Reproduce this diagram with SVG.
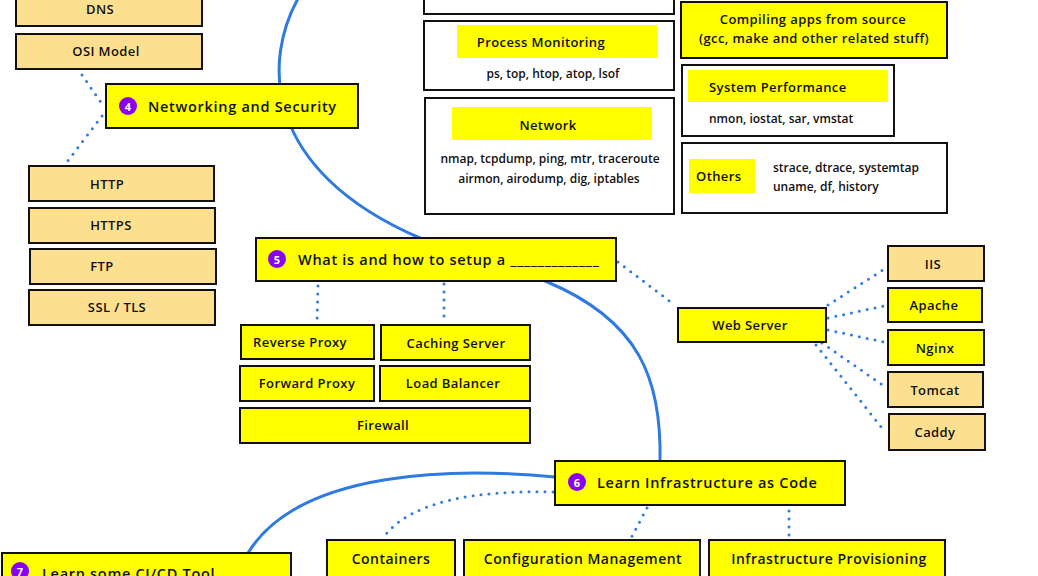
<svg xmlns="http://www.w3.org/2000/svg" width="1038" height="576" viewBox="0 0 1038 576">
<style>
.y{fill:#ffff00;stroke:#111;stroke-width:2}
.o{fill:#fde08f;stroke:#111;stroke-width:2}
.w{fill:#fff;stroke:#111;stroke-width:2}
.bar{fill:#ffff00;stroke:none}
.t{font-family:"Open Sans",sans-serif;font-weight:600;font-size:13px;fill:#111;letter-spacing:0.4px;dominant-baseline:central}
.h{font-size:14.5px;letter-spacing:0.7px}
.b{font-size:14px;letter-spacing:0.5px}
.s{font-family:"Open Sans",sans-serif;font-weight:600;font-size:12px;fill:#111;dominant-baseline:central}
.m{text-anchor:middle}
.main{fill:none;stroke:#2f7ae0;stroke-width:3;stroke-linecap:round}
.dot{fill:none;stroke:#2f7ae0;stroke-width:3;stroke-linecap:round;stroke-dasharray:0 8}
.c{fill:#8a00f5}
.n{font-family:"Open Sans",sans-serif;font-weight:700;font-size:11px;fill:#fff;text-anchor:middle;dominant-baseline:central}
</style>
<rect width="1038" height="576" fill="#fff"/>
<g id="connectors">
<path class="main" d="M300,-5 C262,60 262,170 420,238"/>
<path class="main" d="M545,281 C640,320 662,380 660,462"/>
<path class="main" d="M555,477 C460,468 300,468 248,553"/>
<path class="dot" d="M82,75 L102,104"/>
<path class="dot" d="M102,116 L67,162"/>
<path class="dot" d="M318,286 L317,322"/>
<path class="dot" d="M444,284 L444,320"/>
<path class="dot" d="M618,262 L672,303"/>
<path class="dot" d="M828,305 L886,268"/>
<path class="dot" d="M828,318 L884,306"/>
<path class="dot" d="M828,330 L884,342"/>
<path class="dot" d="M822,343 L884,386"/>
<path class="dot" d="M816,345 L882,428"/>
<path class="dot" d="M553,492 C480,490 410,500 383,538"/>
<path class="dot" d="M647,508 L630,540"/>
<path class="dot" d="M789,511 L789,537"/>
</g>
<g id="dns"><rect class="o" x="16" y="-10" width="186" height="36"/><text class="t m" x="100" y="9">DNS</text></g>
<g id="osi"><rect class="o" x="16" y="34" width="186" height="35"/><text class="t m" x="106" y="51">OSI Model</text></g>
<g id="node4"><rect class="y" x="106" y="84" width="252" height="44"/><circle class="c" cx="128" cy="106" r="9"/><text class="n" x="128" y="106">4</text><text class="t h" x="148" y="106">Networking and Security</text></g>
<g id="http"><rect class="o" x="29" y="166" width="185" height="35"/><text class="t m" x="107" y="184">HTTP</text></g>
<g id="https"><rect class="o" x="29" y="208" width="186" height="35"/><text class="t m" x="111" y="225">HTTPS</text></g>
<g id="ftp"><rect class="o" x="30" y="249" width="186" height="35"/><text class="t m" x="102" y="266">FTP</text></g>
<g id="ssl"><rect class="o" x="29" y="290" width="186" height="35"/><text class="t m" x="117" y="307">SSL / TLS</text></g>
<g id="top-cut"><rect class="w" x="424" y="-10" width="250" height="24"/></g>
<g id="procmon"><rect class="w" x="424" y="21" width="250" height="69"/><rect class="bar" x="457" y="25" width="200" height="33"/><text class="t m" x="541" y="42">Process Monitoring</text><text class="s m" x="553" y="73">ps, top, htop, atop, lsof</text></g>
<g id="network"><rect class="w" x="425" y="98" width="249" height="116"/><rect class="bar" x="452" y="107" width="200" height="33"/><text class="t m" x="548" y="125">Network</text><text class="s m" x="550" y="158">nmap, tcpdump, ping, mtr, traceroute</text><text class="s m" x="549" y="178">airmon, airodump, dig, iptables</text></g>
<g id="compiling"><rect class="y" x="681" y="2" width="266" height="56"/><text class="t m" x="813" y="19">Compiling apps from source</text><text class="t m" x="814" y="38">(gcc, make and other related stuff)</text></g>
<g id="sysperf"><rect class="w" x="682" y="65" width="212" height="71"/><rect class="bar" x="688" y="70" width="200" height="32"/><text class="t" x="709" y="87">System Performance</text><text class="s" x="709" y="118">nmon, iostat, sar, vmstat</text></g>
<g id="others"><rect class="w" x="682" y="143" width="265" height="70"/><rect class="bar" x="689" y="159" width="66" height="34"/><text class="t" x="696" y="176">Others</text><text class="s" x="773" y="167">strace, dtrace, systemtap</text><text class="s" x="773" y="186">uname, df, history</text></g>
<g id="node5"><rect class="y" x="256" y="238" width="360" height="43"/><circle class="c" cx="277" cy="259" r="9"/><text class="n" x="277" y="259">5</text><text class="t h" x="298" y="259">What is and how to setup a _____________</text></g>
<g id="revproxy"><rect class="y" x="241" y="325" width="133" height="34"/><text class="t m" x="300" y="342">Reverse Proxy</text></g>
<g id="caching"><rect class="y" x="381" y="325" width="149" height="35"/><text class="t m" x="456" y="343">Caching Server</text></g>
<g id="fwdproxy"><rect class="y" x="240" y="366" width="134" height="35"/><text class="t m" x="307" y="383">Forward Proxy</text></g>
<g id="lb"><rect class="y" x="380" y="366" width="150" height="35"/><text class="t m" x="453" y="383">Load Balancer</text></g>
<g id="firewall"><rect class="y" x="240" y="408" width="290" height="35"/><text class="t m" x="383" y="425">Firewall</text></g>
<g id="webserver"><rect class="y" x="678" y="308" width="148" height="34"/><text class="t m" x="750" y="325">Web Server</text></g>
<g id="iis"><rect class="o" x="888" y="246" width="96" height="35"/><text class="t m" x="933" y="264">IIS</text></g>
<g id="apache"><rect class="y" x="888" y="288" width="94" height="34"/><text class="t m" x="934" y="305">Apache</text></g>
<g id="nginx"><rect class="y" x="888" y="330" width="96" height="35"/><text class="t m" x="935" y="348">Nginx</text></g>
<g id="tomcat"><rect class="o" x="888" y="372" width="95" height="35"/><text class="t m" x="935" y="390">Tomcat</text></g>
<g id="caddy"><rect class="o" x="889" y="414" width="96" height="36"/><text class="t m" x="935" y="432">Caddy</text></g>
<g id="node6"><rect class="y" x="555" y="461" width="290" height="44"/><circle class="c" cx="577" cy="482" r="9"/><text class="n" x="577" y="482">6</text><text class="t h" x="597" y="482">Learn Infrastructure as Code</text></g>
<g id="containers"><rect class="y" x="327" y="540" width="128" height="45"/><text class="t b m" x="391" y="558">Containers</text></g>
<g id="config"><rect class="y" x="464" y="540" width="236" height="45"/><text class="t b m" x="583" y="558">Configuration Management</text></g>
<g id="provisioning"><rect class="y" x="709" y="540" width="236" height="45"/><text class="t b m" x="829" y="558">Infrastructure Provisioning</text></g>
<g id="node7"><rect class="y" x="2" y="553" width="289" height="40"/><circle class="c" cx="20" cy="571" r="9"/><text class="n" x="20" y="571">7</text><text class="t h" x="42" y="573">Learn some CI/CD Tool</text></g>
</svg>
